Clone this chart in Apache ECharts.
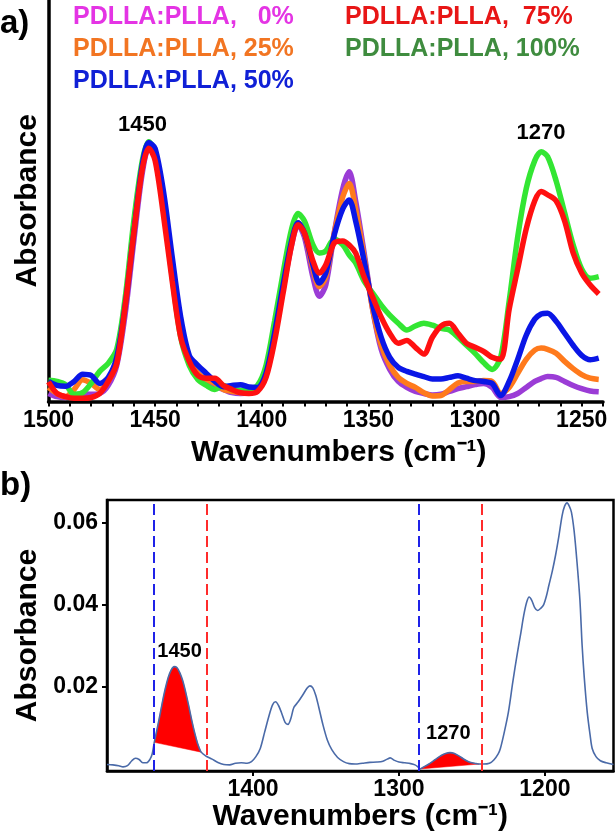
<!DOCTYPE html>
<html><head><meta charset="utf-8">
<script src="https://cdn.jsdelivr.net/npm/echarts@6/dist/echarts.min.js"></script>
<style>html,body{margin:0;padding:0;background:#fff}#c{width:615px;height:834px}</style>
</head><body><div id="c"></div>
<script>
const FONT = "'Liberation Sans', Arial, Helvetica, sans-serif";

// ---- Panel a) data (absorbance, arbitrary units) ----
const topWavenumbers = [1500,1496,1492,1488,1484,1480,1476,1472,1468,1464,1460,1456,1453,1450,1446,1442,1438,1434,1430,1426,1422,1418,1414,1410,1406,1402,1398,1394,1390,1386,1383,1380,1376,1373,1370,1366,1362,1359,1356,1352,1348,1344,1340,1336,1332,1328,1324,1320,1316,1312,1308,1304,1300,1296,1292,1288,1284,1280,1276,1272,1269,1266,1262,1258,1254,1250,1246,1242];
const pdlla0 = [.02,.012,.01,.015,.02,.018,.02,.04,.09,.22,.40,.57,.63,.61,.49,.33,.18,.10,.07,.05,.04,.03,.022,.02,.022,.028,.065,.16,.28,.39,.44,.41,.31,.262,.29,.42,.53,.572,.50,.37,.23,.13,.08,.05,.035,.025,.02,.016,.018,.025,.032,.037,.042,.045,.035,.01,.012,.02,.035,.05,.057,.062,.06,.05,.04,.032,.026,.024];
const pdlla25 = [.035,.02,.012,.03,.054,.045,.03,.05,.10,.24,.42,.585,.64,.615,.49,.33,.18,.10,.07,.055,.045,.03,.025,.022,.025,.03,.07,.17,.29,.40,.445,.42,.33,.286,.31,.42,.51,.543,.48,.36,.23,.14,.09,.06,.045,.035,.022,.014,.015,.03,.046,.05,.05,.052,.05,.02,.035,.07,.105,.128,.133,.13,.12,.10,.082,.067,.058,.055];
const pdlla50 = [.05,.04,.038,.05,.068,.065,.045,.06,.11,.24,.42,.59,.645,.63,.52,.36,.21,.115,.09,.07,.05,.037,.04,.042,.036,.035,.07,.17,.29,.40,.445,.42,.34,.295,.32,.415,.48,.502,.45,.35,.24,.16,.11,.085,.075,.068,.062,.056,.056,.06,.064,.058,.052,.05,.045,.015,.05,.105,.165,.205,.218,.22,.20,.17,.14,.115,.104,.108];
const pdlla75 = [.049,.02,.012,.008,.008,.01,.02,.05,.095,.24,.42,.58,.631,.60,.46,.30,.16,.10,.065,.058,.058,.04,.03,.022,.02,.025,.06,.15,.27,.39,.44,.42,.35,.32,.34,.395,.40,.39,.37,.31,.26,.21,.17,.145,.152,.135,.118,.16,.188,.195,.17,.145,.135,.125,.11,.105,.23,.33,.43,.50,.523,.515,.50,.45,.37,.32,.29,.268];
const pdlla100 = [.053,.05,.042,.018,.022,.045,.075,.095,.13,.26,.45,.60,.647,.62,.48,.31,.16,.09,.055,.04,.03,.04,.03,.028,.03,.04,.09,.20,.32,.43,.468,.45,.39,.37,.375,.405,.39,.365,.345,.30,.27,.24,.215,.195,.178,.188,.195,.19,.182,.178,.16,.14,.12,.097,.08,.11,.25,.41,.53,.60,.622,.61,.55,.47,.39,.33,.307,.311];
const topTickLabels = [1250,1300,1350,1400,1450,1500];

// ---- Panel b) data ----
const bottomWavenumbers = [1500,1496,1492,1489,1486,1483,1480.5,1478,1475.5,1473,1470.5,1469,1467.6,1466,1464,1462,1460,1458,1456,1454,1452,1450,1448,1446,1444,1442,1440,1438,1435.5,1432,1428,1424,1420,1416,1412,1408,1404,1401,1398,1395,1392,1389,1386.5,1384.5,1382.5,1380.5,1378,1376,1374,1372,1369,1366,1363,1361,1359,1357,1355,1352,1349,1346,1342,1338,1334,1330,1325,1320,1315,1311,1308,1306,1303,1300,1296,1292,1289,1287,1285.5,1283,1280,1277,1274,1271,1268,1265,1262,1259,1256,1253,1250,1247,1245,1242,1238,1235,1232,1230.5,1228,1225,1222,1219,1216.5,1214.5,1212.5,1210.8,1209,1207,1205,1203,1201,1199,1197.3,1195,1192.7,1190.5,1188.2,1186.5,1184.8,1183.3,1181.8,1180,1178,1176,1174.5,1173,1171,1169,1167.6,1165,1162,1158,1153];
const bottomAbsorbance = [0.0009,0.0008,0.0006,0.0003,0.0006,0.0018,0.0024,0.0021,0.0013,0.0013,0.0022,0.0035,0.0063,0.009,0.0125,0.0162,0.0195,0.0222,0.024,0.0248,0.0245,0.0232,0.0212,0.0184,0.0152,0.0118,0.0087,0.0061,0.0039,0.0029,0.0022,0.0014,0.0009,0.0008,0.0012,0.0013,0.0012,0.0016,0.0028,0.0048,0.0088,0.0128,0.0155,0.0162,0.0153,0.0136,0.0112,0.0107,0.0122,0.0148,0.0162,0.0178,0.0195,0.0201,0.0196,0.0178,0.015,0.0105,0.0068,0.0045,0.0026,0.0016,0.0011,0.001,0.0012,0.0014,0.0015,0.0017,0.0022,0.0025,0.0019,0.0015,0.0013,0.0011,0.0008,0.0003,-0.0002,0.0003,0.0009,0.0016,0.0024,0.0031,0.0036,0.0038,0.0036,0.003,0.0023,0.0017,0.0013,0.0011,0.001,0.001,0.0012,0.002,0.0035,0.0048,0.0085,0.0137,0.021,0.0278,0.033,0.0373,0.0405,0.0418,0.041,0.0392,0.0385,0.039,0.0398,0.042,0.0446,0.048,0.052,0.0565,0.0617,0.064,0.0648,0.064,0.0625,0.058,0.0503,0.041,0.030,0.022,0.0137,0.008,0.0048,0.0028,0.0018,0.0013,0.0009];
const bottomXTicks = [1200,1300,1400];
const bottomYTicks = [0.02,0.04,0.06];
const blueCuts = [1468.3,1286.3];
const redCuts = [1432,1243];
const fill1450 = [1467.6,1435.5];   // integration limits (start, end) of shaded area
const fill1270 = [1285.5,1245];

const topSeriesDefs = [
  {name:'PDLLA:PLLA,   0%', data:pdlla0, line:'#9b3cd6', text:'#e434e4'},
  {name:'PDLLA:PLLA, 25%', data:pdlla25, line:'#ff7a1c', text:'#f27522'},
  {name:'PDLLA:PLLA, 100%', data:pdlla100, line:'#33e633', text:'#3f8c3f'},
  {name:'PDLLA:PLLA, 50%', data:pdlla50, line:'#0a16e6', text:'#1020d6'},
  {name:'PDLLA:PLLA,  75%', data:pdlla75, line:'#ff1010', text:'#e81616'}
];
const byName = n => topSeriesDefs.find(d => d.name === n);

const bottomPts = bottomWavenumbers.map((w,i)=>[w,bottomAbsorbance[i]]);
function regionPoly(range){
  const [s,e] = range;
  return bottomPts.filter(p => p[0] <= s && p[0] >= e);
}
const fillRegions = [regionPoly(fill1450), regionPoly(fill1270)];

const bold = (size) => ({fontFamily:FONT, fontWeight:'bold', fontSize:size, color:'#000'});

const series = topSeriesDefs.map((d,i)=>({
  type:'line', name:d.name, xAxisIndex:0, yAxisIndex:0,
  data: topWavenumbers.map((w,k)=>[w,d.data[k]]),
  smooth:0.3, symbol:'none', showSymbol:false, clip:true,
  lineStyle:{width:5.5, color:d.line}, itemStyle:{color:d.line}, z:2+i
}));
// peak labels in panel a
series[4].markPoint = {
  symbol:'rect', symbolSize:1, itemStyle:{color:'rgba(0,0,0,0)'}, silent:true,
  label:{show:true, position:'inside', formatter:p=>p.name, ...bold(22)},
  data:[{name:'1450', coord:[1455.9,0.689]},{name:'1270', coord:[1269.1,0.668]}]
};

series.push({
  type:'custom', xAxisIndex:1, yAxisIndex:1, silent:true, z:2,
  data:[[1450,0.01],[1265,0.002]],
  encode:{x:0,y:1},
  renderItem:(params, api)=>{
    const pts = fillRegions[params.dataIndex].map(p=>api.coord(p));
    return {type:'polygon', shape:{points:pts}, style:{fill:'#ff0000', stroke:'#ff0000', lineWidth:0.5}};
  }
});
series.push({
  type:'line', xAxisIndex:1, yAxisIndex:1, data:bottomPts, smooth:0.3,
  symbol:'none', showSymbol:false, lineStyle:{color:'#4a6aa8', width:1.6}, z:3,
  markLine:{
    silent:true, symbol:['none','none'], label:{show:false},
    data:[
      ...blueCuts.map(x=>({xAxis:x, lineStyle:{color:'#1f22e8', type:[11,5], width:2}})),
      ...redCuts.map(x=>({xAxis:x, lineStyle:{color:'#ff2b2b', type:[11,5], width:2}}))
    ]
  },
  markPoint:{
    symbol:'rect', symbolSize:1, itemStyle:{color:'rgba(0,0,0,0)'}, silent:true,
    label:{show:true, position:'inside', formatter:p=>p.name, ...bold(20)},
    data:[{name:'1450', coord:[1450.3,0.0285]},{name:'1270', coord:[1266.2,0.0085]}]
  }
});

const legendItem = n => ({name:n, textStyle:{color:byName(n).text}});
const legendBase = {orient:'vertical', padding:0, itemWidth:0, itemHeight:25, itemGap:7, icon:'none',
  selectedMode:false, textStyle:{fontFamily:FONT, fontWeight:'bold', fontSize:25, lineHeight:25}};

const option = {
  animation:false,
  backgroundColor:'#fff',
  legend:[
    {...legendBase, left:68, top:5, data:['PDLLA:PLLA,   0%','PDLLA:PLLA, 25%','PDLLA:PLLA, 50%'].map(legendItem)},
    {...legendBase, left:340, top:5, data:['PDLLA:PLLA,  75%','PDLLA:PLLA, 100%'].map(legendItem)}
  ],
  graphic:[
    {type:'text', left:0, top:7, style:{text:'a)', font:'bold 33px '+FONT, fill:'#000'}},
    {type:'text', left:0, top:469, style:{text:'b)', font:'bold 33px '+FONT, fill:'#000'}}
  ],
  grid:[
    {left:48.5, right:12, top:0, bottom:432.5},
    {left:107, right:1.5, top:500, bottom:63, show:true, borderColor:'#000', borderWidth:2.5, backgroundColor:'transparent'}
  ],
  xAxis:[
    {gridIndex:0, type:'value', min:1240, max:1500, interval:10, inverse:true,
     axisLine:{onZero:false, lineStyle:{color:'#000', width:3.5}},
     axisTick:{show:true, inside:false, length:5, lineStyle:{color:'#000', width:2}},
     axisLabel:{margin:8, formatter:v=> topTickLabels.includes(v) ? String(v) : '', ...bold(23)},
     splitLine:{show:false},
     name:'Wavenumbers (cm⁻¹)', nameLocation:'middle', nameGap:36,
     nameTextStyle:{...bold(30), padding:[0,0,0,26]}},
    {gridIndex:1, type:'value', min:1153, max:1500, inverse:true,
     axisLine:{onZero:false, lineStyle:{color:'#000', width:2.5}},
     axisTick:{show:true, inside:false, length:5, customValues:bottomXTicks, lineStyle:{color:'#000', width:2}},
     axisLabel:{margin:7, customValues:bottomXTicks, formatter:v=>String(v), ...bold(23)},
     splitLine:{show:false},
     name:'Wavenumbers (cm⁻¹)', nameLocation:'middle', nameGap:29,
     nameTextStyle:{...bold(30)}}
  ],
  yAxis:[
    {gridIndex:0, type:'value', min:0, max:1,
     axisLine:{show:true, onZero:false, lineStyle:{color:'#000', width:3.5}},
     axisTick:{show:false}, axisLabel:{show:false}, splitLine:{show:false},
     name:'Absorbance', nameLocation:'middle', nameGap:6, nameTextStyle:{...bold(30)}},
    {gridIndex:1, type:'value', min:-0.0007, max:0.0655,
     axisLine:{show:true, onZero:false, lineStyle:{color:'#000', width:2.5}},
     axisTick:{show:true, inside:false, length:5, customValues:bottomYTicks, lineStyle:{color:'#000', width:2}},
     axisLabel:{margin:9, customValues:bottomYTicks, formatter:v=>v.toFixed(2), ...bold(23)},
     splitLine:{show:false},
     name:'Absorbance', nameLocation:'middle', nameGap:64, nameTextStyle:{...bold(30)}}
  ],
  series
};
const chart = echarts.init(document.getElementById('c'));
chart.setOption(option);
</script>
</body></html>
